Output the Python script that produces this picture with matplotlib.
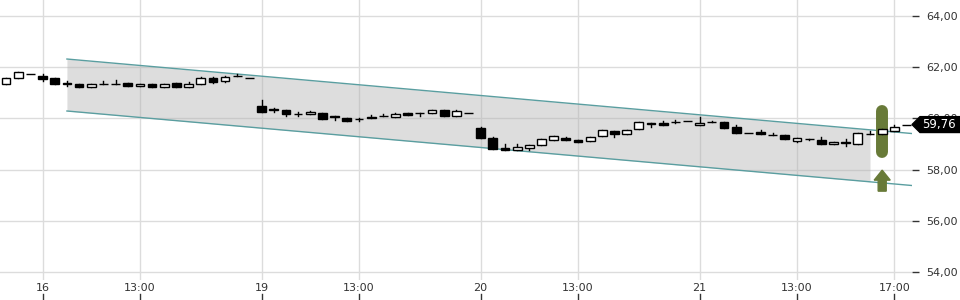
import matplotlib
matplotlib.use("Agg")
import matplotlib.pyplot as plt
from matplotlib.patches import Polygon
import matplotlib.transforms as mtransforms

# 30-minute candles, index = slot number on the trading-time axis
opens = [61.34, 61.58, 61.73, 61.66, 61.57, 61.38, 61.33, 61.21, 61.36, 61.36,
         61.37, 61.25, 61.33, 61.24, 61.38, 61.24, 61.33, 61.59, 61.47, 61.66,
         61.57, 60.48, 60.35, 60.33, 60.18, 60.16, 60.20, 60.10, 60.00, 59.98,
         60.06, 60.10, 60.04, 60.22, 60.22, 60.22, 60.32, 60.11, 60.22, 59.61,
         59.22, 58.86, 58.77, 58.86, 58.96, 59.16, 59.25, 59.16, 59.12, 59.32,
         59.51, 59.38, 59.57, 59.83, 59.83, 59.86, 59.89, 59.73, 59.87, 59.87,
         59.68, 59.44, 59.48, 59.36, 59.35, 59.13, 59.18, 59.16, 58.99, 59.07,
         59.00, 59.41, 59.39, 59.52, 59.75]
highs = [61.58, 61.81, 61.73, 61.73, 61.57, 61.46, 61.33, 61.33, 61.48, 61.52,
         61.37, 61.34, 61.33, 61.33, 61.38, 61.41, 61.63, 61.63, 61.66, 61.72,
         61.57, 60.72, 60.42, 60.33, 60.26, 60.30, 60.20, 60.10, 60.00, 60.03,
         60.13, 60.16, 60.22, 60.22, 60.23, 60.32, 60.32, 60.33, 60.22, 59.68,
         59.28, 58.99, 58.99, 58.95, 59.18, 59.30, 59.28, 59.16, 59.29, 59.55,
         59.51, 59.55, 59.87, 59.83, 59.90, 59.94, 59.89, 60.07, 59.90, 59.87,
         59.74, 59.44, 59.55, 59.44, 59.35, 59.22, 59.21, 59.26, 59.09, 59.20,
         59.42, 59.51, 59.57, 59.74, 59.76]
lows = [61.34, 61.58, 61.73, 61.46, 61.33, 61.25, 61.21, 61.21, 61.33, 61.33,
        61.25, 61.25, 61.24, 61.24, 61.22, 61.24, 61.33, 61.40, 61.43, 61.66,
        61.57, 60.26, 60.24, 60.09, 60.09, 60.16, 59.98, 59.94, 59.90, 59.90,
        60.00, 60.10, 60.04, 60.14, 60.09, 60.22, 60.09, 60.11, 60.22, 59.25,
        58.79, 58.77, 58.77, 58.77, 58.96, 59.16, 59.16, 59.07, 59.12, 59.32,
        59.28, 59.38, 59.57, 59.68, 59.75, 59.84, 59.89, 59.73, 59.85, 59.61,
        59.42, 59.44, 59.39, 59.36, 59.20, 59.09, 59.15, 58.99, 58.99, 58.93,
        59.00, 59.39, 59.39, 59.52, 59.75]
closes = [61.58, 61.81, 61.73, 61.54, 61.33, 61.36, 61.21, 61.33, 61.33, 61.33,
          61.25, 61.34, 61.24, 61.33, 61.22, 61.35, 61.57, 61.43, 61.62, 61.66,
          61.57, 60.26, 60.33, 60.16, 60.16, 60.26, 59.98, 60.05, 59.90, 59.96,
          60.00, 60.10, 60.17, 60.14, 60.23, 60.32, 60.09, 60.29, 60.22, 59.25,
          58.79, 58.77, 58.88, 58.95, 59.18, 59.30, 59.16, 59.07, 59.29, 59.55,
          59.38, 59.55, 59.87, 59.80, 59.75, 59.85, 59.89, 59.81, 59.87, 59.61,
          59.42, 59.44, 59.39, 59.36, 59.20, 59.22, 59.18, 58.99, 59.09, 59.05,
          59.42, 59.39, 59.57, 59.68, 59.76]

xtick_pos = [3, 11, 21, 29, 39, 47, 57, 65, 73]
xtick_labels = ["16", "13:00", "19", "13:00", "20", "13:00", "21", "13:00", "17:00"]
yticks = [54, 56, 58, 60, 62, 64]

# trend channel
chan_start, chan_shade_end = 5, 71
upper_start, lower_start = 62.32, 60.29
slope = -0.0419

# signal marker
signal_x = 72
signal_bar = (58.69, 60.29)
arrow_top, arrow_neck, arrow_bottom = 57.98, 57.59, 57.16
last_price = 59.76

green = "#687a38"
xmin, xmax = -0.5, 74.45

fig = plt.figure(figsize=(9.6, 3), dpi=100)
ax = fig.add_axes([0, 20 / 300, 912 / 960, 280 / 300])
ax.set_xlim(xmin, xmax)
ax.set_ylim(53.69, 64.625)

ax.grid(True, color="#dcdcdc", linewidth=1)
ax.set_axisbelow(True)
for s in ax.spines.values():
    s.set_visible(False)

# channel
xs = [chan_start, chan_shade_end]
up = [upper_start + slope * (x - chan_start) for x in xs]
lo = [lower_start + slope * (x - chan_start) for x in xs]
ax.fill_between(xs, lo, up, color="#b0b0b0", alpha=0.42, linewidth=0, zorder=1)
xl = [chan_start, xmax]
ax.plot(xl, [upper_start + slope * (x - chan_start) for x in xl], color="#5a9ea0", lw=1, zorder=2)
ax.plot(xl, [lower_start + slope * (x - chan_start) for x in xl], color="#5a9ea0", lw=1, zorder=2)

# signal bar and arrow
ax.plot([signal_x, signal_x], signal_bar, color=green, lw=8.6, solid_capstyle="round", zorder=3)
hw, sw = 0.66, 0.33
arrow = Polygon([(signal_x, arrow_top), (signal_x + hw, arrow_neck), (signal_x + sw, arrow_neck),
                 (signal_x + sw, arrow_bottom), (signal_x - sw, arrow_bottom),
                 (signal_x - sw, arrow_neck), (signal_x - hw, arrow_neck)],
                closed=True, color=green, zorder=3)
ax.add_patch(arrow)

# candles
w = 0.72
for i, (o, h, l, c) in enumerate(zip(opens, highs, lows, closes)):
    ax.plot([i, i], [l, h], color="black", lw=1, zorder=4)
    fill = "white" if c >= o else "black"
    ax.bar(i, c - o, bottom=o, width=w, color=fill, edgecolor="black", linewidth=1, zorder=5)

# axes
ax.yaxis.tick_right()
ax.set_yticks(yticks)
ax.set_yticklabels([f"{v:.2f}".replace(".", ",") for v in yticks])
ax.tick_params(axis="y", length=5, width=1, color="#333333", pad=5, labelsize=8, labelcolor="#333333")
ax.set_xticks(xtick_pos)
ax.set_xticklabels(xtick_labels)
ax.tick_params(axis="x", length=0, pad=2, labelsize=8, labelcolor="#333333")
trans = mtransforms.blended_transform_factory(ax.transData, ax.transAxes)
for x in xtick_pos:
    ax.plot([x, x], [-0.05, -0.068], color="#333333", lw=1, transform=trans, clip_on=False)

# last price tag (covers the 60,00 label, as in the original)
ytr = mtransforms.blended_transform_factory(fig.transFigure, ax.transData)
tag_h = 0.31
tag = Polygon([(912 / 960, last_price), (920 / 960, last_price + tag_h), (1.0, last_price + tag_h),
               (1.0, last_price - tag_h), (920 / 960, last_price - tag_h)],
              closed=True, color="black", transform=ytr, clip_on=False, zorder=10)
ax.add_patch(tag)
ax.text(939 / 960, last_price, f"{last_price:.2f}".replace(".", ","), transform=ytr,
        color="white", fontsize=8.5, ha="center", va="center", zorder=11)

fig.savefig("out.png", dpi=100)
